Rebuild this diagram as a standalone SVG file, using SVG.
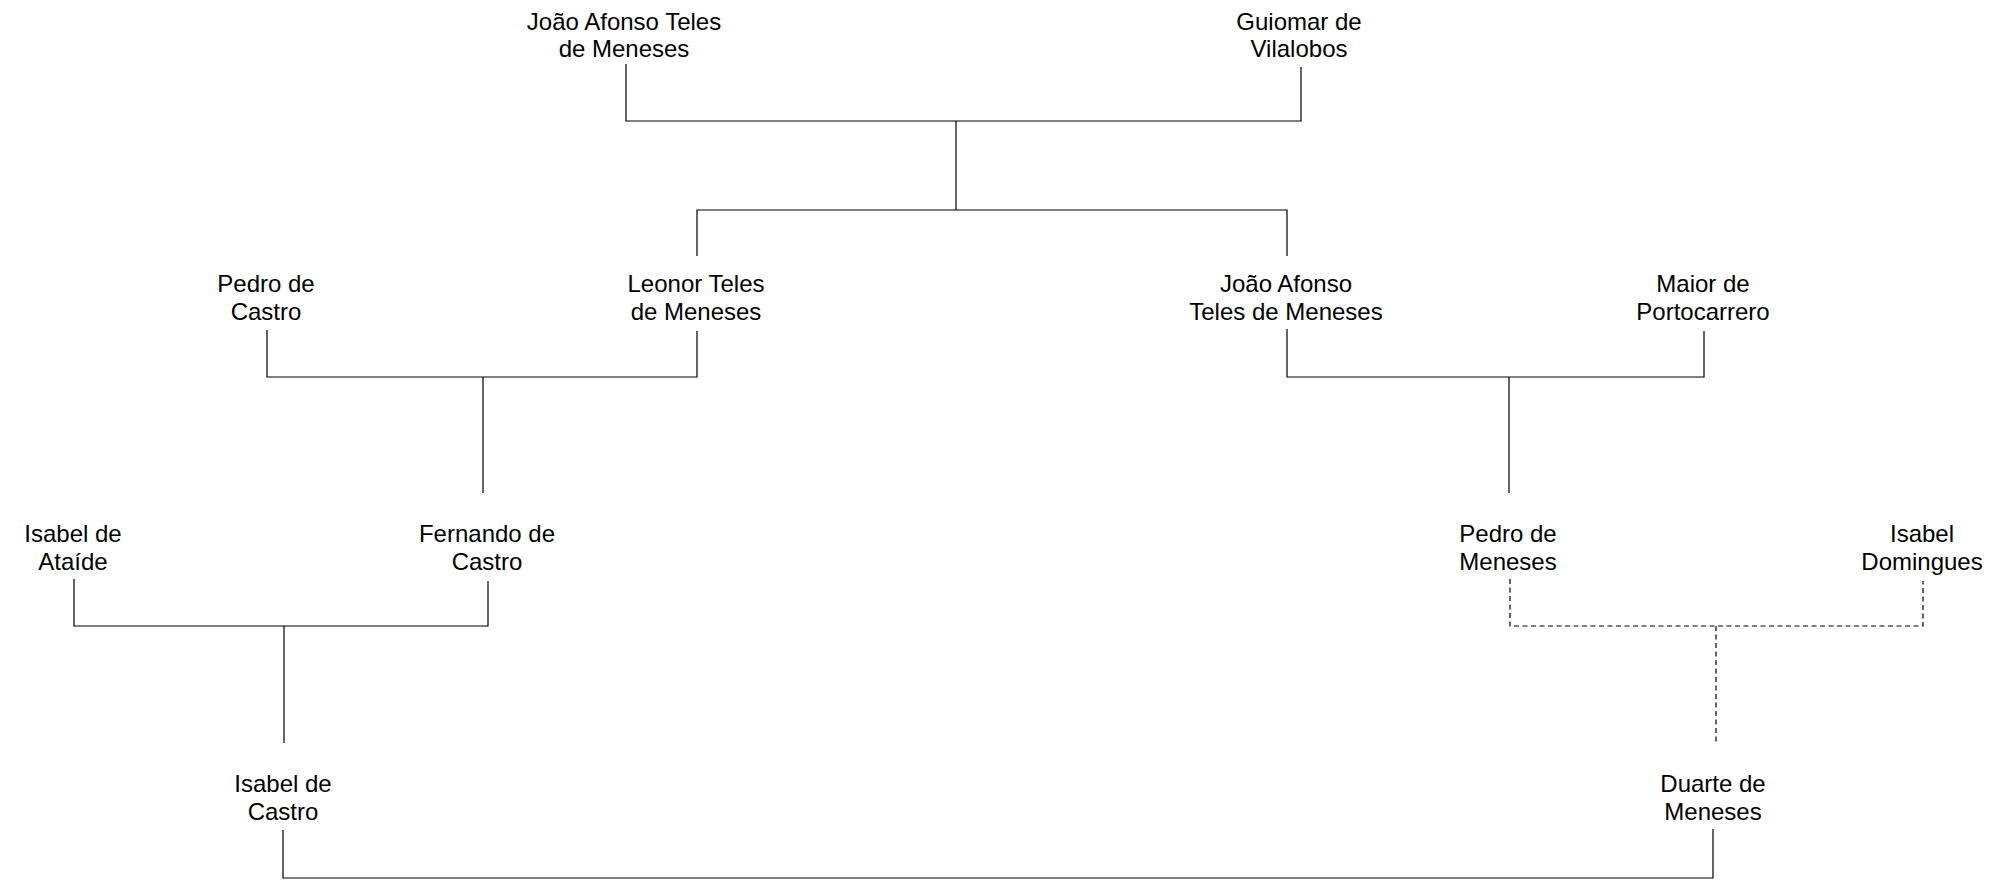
<svg xmlns="http://www.w3.org/2000/svg" width="1997" height="886" viewBox="0 0 1997 886">
<style>
  .bg { fill: #ffffff; }
  .lbl { font-family: "Liberation Sans", Arial, sans-serif; font-size: 24px; fill: #000000; text-anchor: middle; }
  .ln { fill: none; stroke: #000000; stroke-width: 1.2; }
  .dash { fill: none; stroke: #000000; stroke-width: 1.2; stroke-dasharray: 5 3.5; }
</style>
<rect class="bg" x="0" y="0" width="1997" height="886"/>

<g id="connectors">
  <!-- top couple -->
  <polyline class="ln" points="626,64 626,121 1301,121 1301,67"/>
  <line class="ln" x1="956" y1="121" x2="956" y2="210"/>
  <polyline class="ln" points="697,256 697,210 1287,210 1287,256"/>
  <!-- Pedro de Castro + Leonor -->
  <polyline class="ln" points="267,330 267,377 697,377 697,331"/>
  <line class="ln" x1="483" y1="377" x2="483" y2="493"/>
  <!-- João Afonso + Maior -->
  <polyline class="ln" points="1287,329 1287,377 1704,377 1704,331"/>
  <line class="ln" x1="1509" y1="377" x2="1509" y2="493"/>
  <!-- Isabel de Ataíde + Fernando -->
  <polyline class="ln" points="74,579 74,626 488,626 488,581"/>
  <line class="ln" x1="284" y1="626" x2="284" y2="743"/>
  <!-- Pedro de Meneses + Isabel Domingues (dashed) -->
  <polyline class="dash" points="1510,579 1510,626 1923,626 1923,581"/>
  <line class="dash" x1="1716" y1="626" x2="1716" y2="743"/>
  <!-- Isabel de Castro + Duarte -->
  <polyline class="ln" points="283,830 283,878 1713,878 1713,829"/>
</g>

<g id="joao_afonso_teles_sr">
  <text class="lbl" x="624" y="30">João Afonso Teles</text>
  <text class="lbl" x="624" y="57">de Meneses</text>
</g>
<g id="guiomar_de_vilalobos">
  <text class="lbl" x="1299" y="30">Guiomar de</text>
  <text class="lbl" x="1299" y="57">Vilalobos</text>
</g>
<g id="pedro_de_castro">
  <text class="lbl" x="266" y="292">Pedro de</text>
  <text class="lbl" x="266" y="320">Castro</text>
</g>
<g id="leonor_teles">
  <text class="lbl" x="696" y="292">Leonor Teles</text>
  <text class="lbl" x="696" y="320">de Meneses</text>
</g>
<g id="joao_afonso_teles_jr">
  <text class="lbl" x="1286" y="292">João Afonso</text>
  <text class="lbl" x="1286" y="320">Teles de Meneses</text>
</g>
<g id="maior_de_portocarrero">
  <text class="lbl" x="1703" y="292">Maior de</text>
  <text class="lbl" x="1703" y="320">Portocarrero</text>
</g>
<g id="isabel_de_ataide">
  <text class="lbl" x="73" y="542">Isabel de</text>
  <text class="lbl" x="73" y="570">Ataíde</text>
</g>
<g id="fernando_de_castro">
  <text class="lbl" x="487" y="542">Fernando de</text>
  <text class="lbl" x="487" y="570">Castro</text>
</g>
<g id="pedro_de_meneses">
  <text class="lbl" x="1508" y="542">Pedro de</text>
  <text class="lbl" x="1508" y="570">Meneses</text>
</g>
<g id="isabel_domingues">
  <text class="lbl" x="1922" y="542">Isabel</text>
  <text class="lbl" x="1922" y="570">Domingues</text>
</g>
<g id="isabel_de_castro">
  <text class="lbl" x="283" y="792">Isabel de</text>
  <text class="lbl" x="283" y="820">Castro</text>
</g>
<g id="duarte_de_meneses">
  <text class="lbl" x="1713" y="792">Duarte de</text>
  <text class="lbl" x="1713" y="820">Meneses</text>
</g>
</svg>
